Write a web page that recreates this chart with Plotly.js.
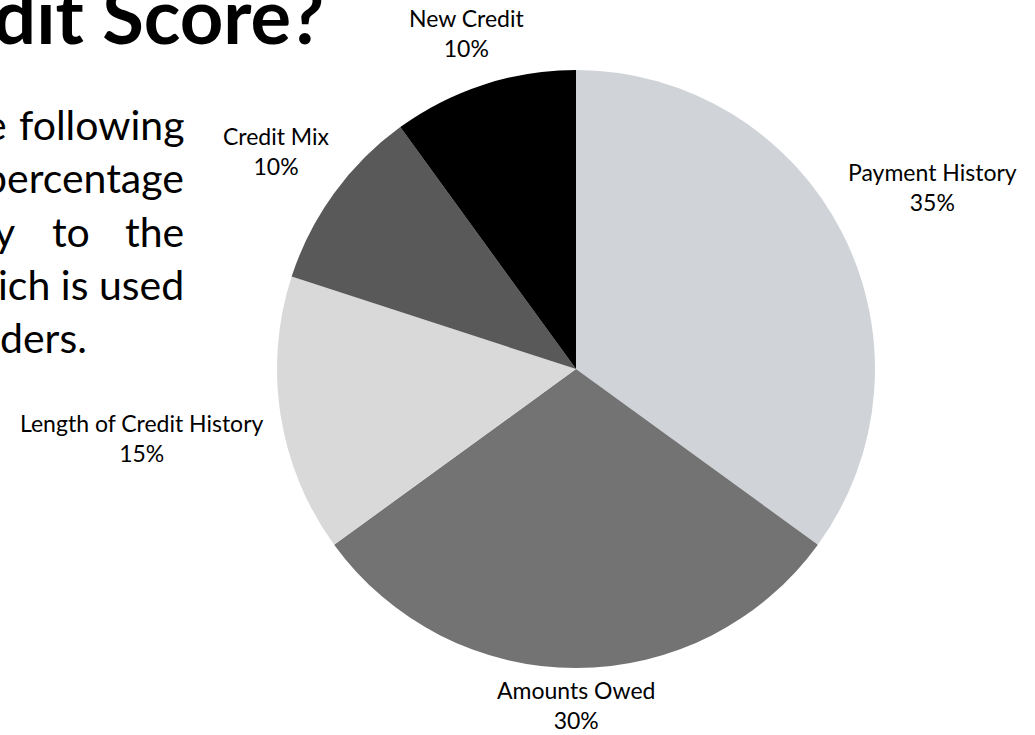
<!DOCTYPE html>
<html>
<head>
<meta charset="utf-8">
<script src="https://cdn.plot.ly/plotly-3.0.1.min.js"></script>
<style>html,body{margin:0;padding:0;background:#fff;overflow:hidden}#chart{width:1035px;height:735px}</style>
</head>
<body>
<div id="chart"></div>
<script>
var categories = ["Payment History", "Amounts Owed", "Length of Credit History", "Credit Mix", "New Credit"];
var shares = [35, 30, 15, 10, 10];
var sliceColors = ["#d0d4d8", "#737373", "#d9d9d9", "#595959", "#000000"];
var titleFragment = "dit Score?";
var bodyLine1 = ["e", "following"];
var bodyLine2 = ["percentage"];
var bodyLine3 = ["y", "to", "the"];
var bodyLine4 = ["ich is used"];
var bodyLine5 = ["ders."];

var W = 1035, H = 735;
var FONT = "Lato, 'Open Sans', sans-serif";
function px(x){return x / W;}
function py(y){return 1 - y / H;}

var annotations = [];
// partial slide title (cut off at top-left like the reference)
var TITLE_SIZE = 76;
annotations.push({xref:'paper', yref:'paper', x: px(326), y: py(41 + 0.275*TITLE_SIZE), xanchor:'right', yanchor:'bottom',
  text: '<b>' + titleFragment + '</b>', showarrow:false, font:{family:FONT, size:TITLE_SIZE, color:'#000'}});

// partial justified body text
var BODY_SIZE = 41;
var bodyFont = {family:FONT, size:BODY_SIZE, color:'#000'};
function bodyAnn(text, x, anchor, baseline){
  annotations.push({xref:'paper', yref:'paper', x: px(x), y: py(baseline + 0.275*BODY_SIZE), xanchor:anchor, yanchor:'bottom',
    text: text, showarrow:false, font:bodyFont});
}
bodyAnn(bodyLine1[0], 9, 'right', 140);
bodyAnn(bodyLine1[1], 186, 'right', 140);
bodyAnn(bodyLine2[0], 186, 'right', 193);
bodyAnn(bodyLine3[0], 17, 'right', 247);
bodyAnn(bodyLine3[1], 71, 'center', 247);
bodyAnn(bodyLine3[2], 186, 'right', 247);
bodyAnn(bodyLine4[0], 186, 'right', 300);
bodyAnn(bodyLine5[0], 89, 'right', 353);

// pie geometry
var dom = {x: [277/W, 875/W], y: [67/H, 665/H]};
var cx = (dom.x[0] + dom.x[1]) / 2 * W;
var cy = (1 - (dom.y[0] + dom.y[1]) / 2) * H;
var R = Math.min((dom.x[1]-dom.x[0])*W, (dom.y[1]-dom.y[0])*H) / 2;

// outside labels placed around the pie (best-fit style): label box touches a tangent line just outside the pie
var LABEL_SIZE = 23;
var ctx = document.createElement('canvas').getContext('2d');
ctx.font = LABEL_SIZE + 'px Lato';
var total = shares.reduce(function(a,b){return a+b;}, 0);
var cum = 0;
for (var i = 0; i < categories.length; i++) {
  var mid = (cum + shares[i] / 2) / total * 2 * Math.PI;
  cum += shares[i];
  var ux = Math.sin(mid), uy = -Math.cos(mid);
  var pct = Math.round(shares[i] / total * 100) + '%';
  var hw = Math.max(ctx.measureText(categories[i]).width, ctx.measureText(pct).width) / 2;
  var hh = 20;
  var dist = R + 17 + Math.abs(hw*ux) + Math.abs(hh*uy);
  annotations.push({xref:'paper', yref:'paper', x: px(cx + ux*dist), y: py(cy + uy*dist),
    xanchor:'center', yanchor:'middle', align:'center', showarrow:false,
    text: categories[i] + '<br>' + pct, font:{family:FONT, size:LABEL_SIZE, color:'#000'}});
}

var trace = {
  type: 'pie',
  labels: categories,
  values: shares,
  sort: false,
  direction: 'clockwise',
  rotation: 0,
  marker: {colors: sliceColors, line: {width: 0}},
  textinfo: 'none',
  hoverinfo: 'label+percent',
  domain: dom
};

var layout = {
  width: W, height: H,
  margin: {l:0, r:0, t:0, b:0},
  paper_bgcolor: '#fff',
  showlegend: false,
  annotations: annotations,
  font: {family: FONT}
};

Plotly.newPlot('chart', [trace], layout, {staticPlot: true, displayModeBar: false});
</script>
</body>
</html>
